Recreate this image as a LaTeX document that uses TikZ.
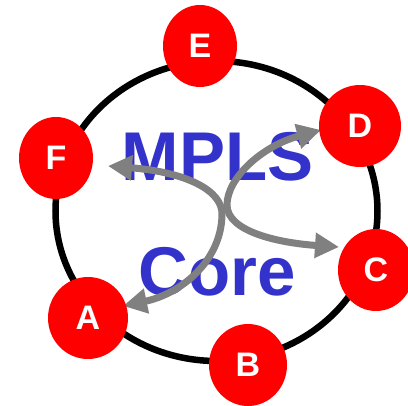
\documentclass[tikz,border=0pt]{standalone}
\usepackage{fontspec}
\setmainfont{Liberation Sans}
\usetikzlibrary{shapes.geometric,arrows.meta}
\definecolor{nodered}{HTML}{FF0000}
\definecolor{coreblue}{HTML}{3333CC}
\definecolor{arrowgray}{HTML}{808080}
\tikzset{
  router/.style={ellipse, fill=nodered, inner sep=0pt, minimum width=78pt, minimum height=82pt,
    text=white, font=\fontsize{34}{34}\selectfont\bfseries},
  ring/.style={draw=black, line width=6.5pt},
  bigtext/.style={inner sep=0pt, text=coreblue, font=\fontsize{69}{69}\selectfont\bfseries},
  lsp/.style={draw=arrowgray, line width=7pt,
    {Triangle[length=24pt,width=24pt]}-{Triangle[length=24pt,width=24pt]}}
}
\begin{document}
\begin{tikzpicture}[x=1pt,y=-1pt]
\useasboundingbox (0,0) rectangle (408,406);
\fill[white] (0,0) rectangle (408,406);
% core ring
\draw[ring] (216.5,211) ellipse [x radius=161, y radius=150];
% labels
\node[bigtext] (mpls) at (217.5,157) {MPLS};
\node[bigtext] (core) at (217,272) {Core};
% arrow end points
\coordinate (fEnd) at (108,166);
\coordinate (aEnd) at (123,306);
\coordinate (dEnd) at (321,130);
\coordinate (cEnd) at (339,247);
% paths
\draw[lsp] (fEnd) .. controls (185,172) and (223,190) .. (222,215)
  .. controls (221,262) and (180,294) .. (aEnd);
\draw[lsp] (dEnd) .. controls (262,146) and (227,178) .. (227,205)
  .. controls (227,232) and (280,243) .. (cEnd);
% routers
\node[router, minimum width=74pt] (E) at (200,46) {E};
\node[router, minimum width=82pt] (D) at (360,126) {D};
\node[router, minimum width=74pt] (F) at (56,158) {F};
\node[router, minimum width=76pt] (C) at (376,270) {C};
\node[router, minimum width=80pt] (A) at (88,318) {A};
\node[router, minimum width=78pt] (B) at (248,365) {B};
\end{tikzpicture}
\end{document}
